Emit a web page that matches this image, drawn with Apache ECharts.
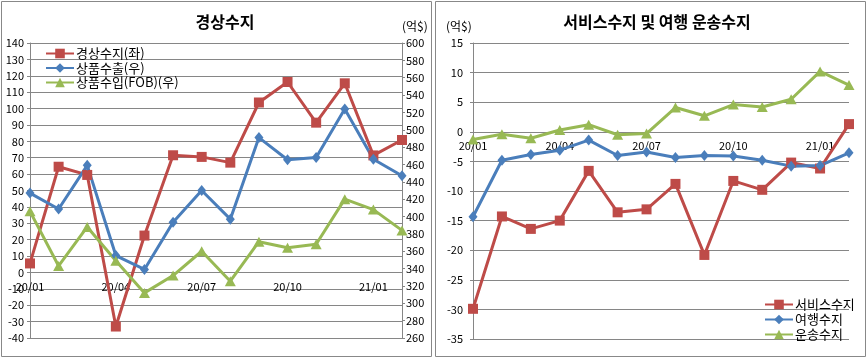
<!DOCTYPE html>
<html><head><meta charset="utf-8">
<script src="https://cdn.jsdelivr.net/npm/echarts@6/dist/echarts.min.js"></script>
<style>html,body{margin:0;padding:0;background:#fff}#c{width:868px;height:358px}</style>
</head><body><div id="c"></div>
<script>
const categories = ['20/01','20/02','20/03','20/04','20/05','20/06','20/07','20/08','20/09','20/10','20/11','20/12','21/01','21/02'];
const currentAccount = [5.5, 64.5, 59.5, -33, 22.5, 71.5, 70.5, 67, 103.7, 116.2, 91.4, 115.4, 71.4, 80.8];
const goodsExports = [427, 408.7, 459, 355, 339, 393.5, 430, 397, 491, 465.5, 468, 524, 466, 447];
const goodsImports = [406, 343, 388, 349, 312, 332, 360, 325.5, 371, 364, 368, 420, 408, 384];
const servicesBalance = [-29.9, -14.3, -16.4, -15.0, -6.6, -13.6, -13.1, -8.8, -20.8, -8.3, -9.8, -5.2, -6.2, 1.3];
const travelBalance = [-14.35, -4.8, -3.85, -3.1, -1.4, -4.0, -3.4, -4.35, -4.0, -4.1, -4.8, -5.8, -5.7, -3.55];
const transportBalance = [-1.3, -0.4, -1.1, 0.3, 1.2, -0.5, -0.3, 4.1, 2.7, 4.6, 4.2, 5.5, 10.2, 7.9];

const RED = '#BE4B48', BLUE = '#4A7EBB', GREEN = '#98B954';
const FONT = '"Noto Sans CJK KR", sans-serif';
const GRIDC = '#868686';

const chart = echarts.init(document.getElementById('c'), null, {renderer: 'canvas'});
const axisLabel = {color: '#000', fontSize: 11, fontFamily: FONT};
function valAxis(gridIndex, min, max, interval, pos, split, margin) {
  return {type: 'value', gridIndex, min, max, interval, position: pos,
    axisLine: {show: true, lineStyle: {color: GRIDC}},
    axisTick: {show: true, length: 3, lineStyle: {color: GRIDC}},
    splitLine: {show: split, lineStyle: {color: GRIDC, width: 1}},
    axisLabel: Object.assign({margin}, axisLabel)};
}
// category axes sit on the zero line of their value axis
function catAxis(gridIndex, offset) {
  return {type: 'category', gridIndex, data: categories, boundaryGap: false,
    position: 'bottom', offset,
    axisLine: {show: true, onZero: false, lineStyle: {color: GRIDC}},
    axisTick: {show: false},
    axisLabel: Object.assign({interval: 2, margin: 9}, axisLabel)};
}
function line(name, data, color, symbol, size, xi, yi) {
  return {name, type: 'line', data, xAxisIndex: xi, yAxisIndex: yi, color,
    symbol, symbolSize: size, showSymbol: true, animation: false,
    lineStyle: {color, width: 3}, itemStyle: {color}};
}
chart.setOption({
  animation: false,
  textStyle: {fontFamily: FONT},
  title: [
    {text: '경상수지', left: 220, top: 9, textAlign: 'center', textStyle: {fontSize: 16, fontWeight: 'bold', color: '#000', fontFamily: FONT}},
    {text: '서비스수지 및 여행 운송수지', left: 652, top: 9, textAlign: 'center', textStyle: {fontSize: 16, fontWeight: 'bold', color: '#000', fontFamily: FONT}}
  ],
  grid: [
    {left: 30, right: 466, top: 43, bottom: 20},
    {left: 473, right: 19, top: 43, bottom: 19}
  ],
  xAxis: [catAxis(0, -65.6), catAxis(1, -207.2)],
  yAxis: [
    valAxis(0, -40, 140, 10, 'left', true, 6),
    valAxis(0, 260, 600, 20, 'right', false, 4),
    valAxis(1, -35, 15, 5, 'left', true, 10)
  ],
  legend: [
    {orient: 'vertical', left: 40, top: 42, itemWidth: 28, itemHeight: 12, itemGap: 1.5,
      data: ['경상수지(좌)', '상품수출(우)', '상품수입(FOB)(우)'],
      textStyle: {fontSize: 13, color: '#000', fontFamily: FONT, padding: [0,0,0,-3]}},
    {orient: 'vertical', left: 759, top: 293, itemWidth: 28, itemHeight: 12, itemGap: 2,
      data: ['서비스수지', '여행수지', '운송수지'],
      textStyle: {fontSize: 13, color: '#000', fontFamily: FONT, padding: [0,0,0,-3]}}
  ],
  graphic: [
    {type: 'rect', shape: {x: 1.5, y: 1.5, width: 430, height: 355}, style: {fill: null, stroke: '#888', lineWidth: 1}, z: -1},
    {type: 'rect', shape: {x: 435.5, y: 1.5, width: 430, height: 355}, style: {fill: null, stroke: '#888', lineWidth: 1}, z: -1},
    {type: 'text', left: 402, top: 20, style: {text: '(억$)', fontSize: 12, fill: '#000', fontFamily: FONT}},
    {type: 'text', left: 446, top: 20, style: {text: '(억$)', fontSize: 12, fill: '#000', fontFamily: FONT}}
  ],
  series: [
    line('경상수지(좌)', currentAccount, RED, 'rect', 10, 0, 0),
    line('상품수출(우)', goodsExports, BLUE, 'diamond', [9, 11], 0, 1),
    line('상품수입(FOB)(우)', goodsImports, GREEN, 'triangle', [11, 10], 0, 1),
    line('서비스수지', servicesBalance, RED, 'rect', 10, 1, 2),
    line('여행수지', travelBalance, BLUE, 'diamond', [9, 11], 1, 2),
    line('운송수지', transportBalance, GREEN, 'triangle', [11, 10], 1, 2)
  ]
});
</script></body></html>
